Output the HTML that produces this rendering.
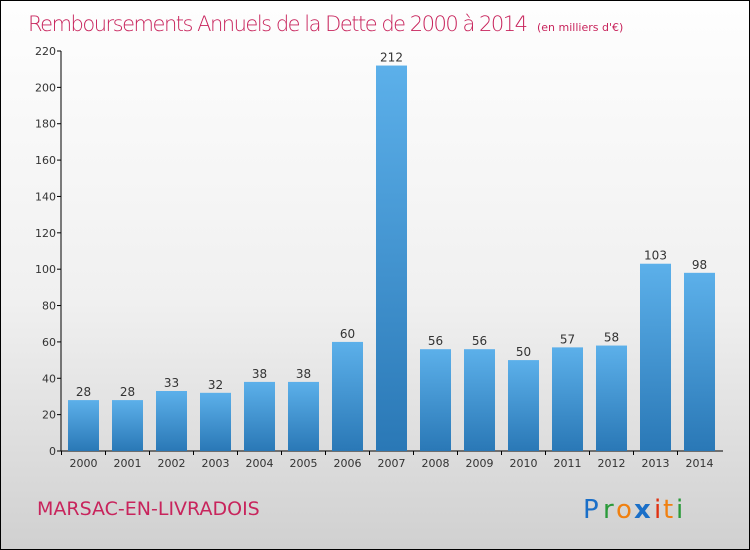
<!DOCTYPE html>
<html><head><meta charset="utf-8"><style>
body{margin:0}
#c{width:750px;height:550px;position:relative;box-sizing:border-box;border:1px solid #000;background:linear-gradient(#fefefe,#f0f0f0 55%,#d0d0d0);font-family:"DejaVu Sans","Liberation Sans",sans-serif;overflow:hidden}
</style></head><body>
<div id="c">
<svg width="750" height="550">
<defs><linearGradient id="g" x1="0" y1="0" x2="0" y2="1"><stop offset="0" stop-color="#5cb0ea"/><stop offset="1" stop-color="#2a78b6"/></linearGradient></defs>
<text x="27" y="30" font-size="21" fill="#c8245c" font-family="DejaVu Sans, sans-serif" font-weight="200" textLength="500">Remboursements Annuels de la Dette de 2000 à 2014</text>
<text x="536" y="30" font-size="11" fill="#c8245c">(en milliers d'€)</text>
<g id="plot"></g>
<text x="36" y="514" font-size="19" fill="#c8245c">MARSAC-EN-LIVRADOIS</text>
<g font-size="26" font-family="DejaVu Sans, sans-serif">
<text x="582" y="517" fill="#1a6fc8">P</text><text x="602" y="517" fill="#2a9a3a">r</text><text x="615" y="517" fill="#f08010">o</text><text x="633" y="517" fill="#1a6fc8" font-weight="bold">x</text><text x="653" y="517" fill="#e03010">i</text><text x="662" y="517" fill="#f08010">t</text><text x="675" y="517" fill="#2a9a3a">i</text>
</g>
</svg></div>
<script>
const categories=["2000","2001","2002","2003","2004","2005","2006","2007","2008","2009","2010","2011","2012","2013","2014"];
const values=[28,28,33,32,38,38,60,212,56,56,50,57,58,103,98];
const yTicks=[0,20,40,60,80,100,120,140,160,180,200,220];
const NS="http://www.w3.org/2000/svg";
const g=document.getElementById('plot');
const y0=450,yTop=50,yMax=220,x0=60;
const yS=v=>y0-(v/yMax)*(y0-yTop);
const xS=i=>67+i*44;
const bw=31;
function el(t,a){const e=document.createElementNS(NS,t);for(const k in a)e.setAttribute(k,a[k]);g.appendChild(e);return e;}
const ax=el('line',{x1:x0,y1:yTop,x2:x0,y2:y0,stroke:'#000'});


const bx=el('line',{x1:x0,y1:y0,x2:722,y2:y0,stroke:'#000'});


yTicks.forEach(v=>{
 const t=el('line',{x1:x0-4,y1:yS(v),x2:x0,y2:yS(v),stroke:'#000'});
 
 
 const l=el('text',{x:x0-5,y:yS(v)+4,'text-anchor':'end','font-size':11,fill:'#333'});
 l.textContent=v;
 
 
});
categories.forEach((c,i)=>{
 const x=xS(i),v=values[i];
 const r=el('rect',{x:x,y:yS(v),width:bw,height:y0-yS(v),fill:'url(#g)'});
 
 
 const vl=el('text',{x:x+bw/2,y:yS(v)-4,'text-anchor':'middle','font-size':12,fill:'#333'});
 vl.textContent=v;
 
 
 const xl=el('text',{x:x+bw/2,y:466,'text-anchor':'middle','font-size':11,fill:'#333'});
 xl.textContent=c;
 
 
 const tk=el('line',{x1:x-6.5,y1:y0,x2:x-6.5,y2:y0+4,stroke:'#000'});
 
 
});
</script>
</body></html>
